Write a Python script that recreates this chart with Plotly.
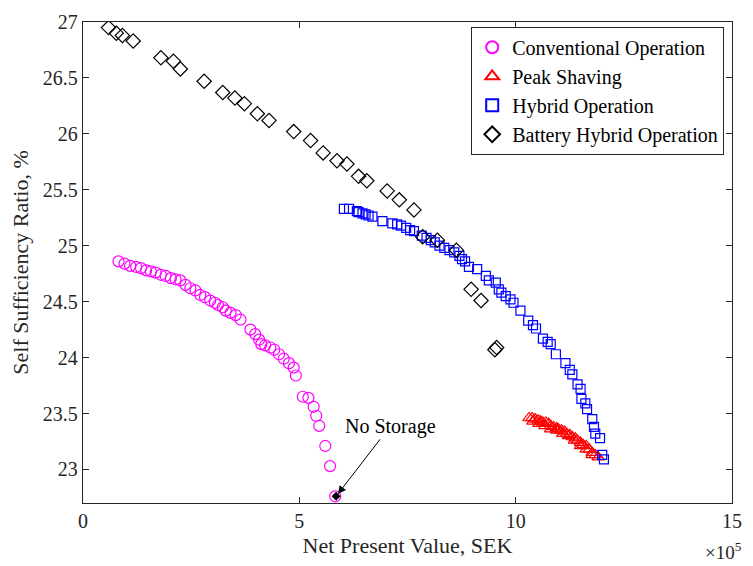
import plotly.graph_objects as go

# Net present value in units of 1e5 SEK, self sufficiency ratio in %
conv_npv = [0.82, 0.96, 1.09, 1.23, 1.34, 1.46, 1.57, 1.68, 1.80, 1.91, 2.03, 2.14, 2.25,
            2.37, 2.48, 2.60, 2.71, 2.82, 2.94, 3.05, 3.12, 3.23, 3.30, 3.41, 3.53, 3.64,
            3.87, 3.98, 4.07, 4.12, 4.21, 4.33, 4.42, 4.53, 4.64, 4.76, 4.87, 4.92, 5.08,
            5.21, 5.33, 5.39, 5.46, 5.60, 5.71, 5.83]
conv_ssr = [24.86, 24.84, 24.82, 24.81, 24.80, 24.78, 24.77, 24.76, 24.74, 24.73, 24.71,
            24.70, 24.69, 24.65, 24.62, 24.60, 24.56, 24.54, 24.51, 24.49, 24.47, 24.45,
            24.42, 24.40, 24.38, 24.34, 24.25, 24.21, 24.16, 24.12, 24.11, 24.09, 24.07,
            24.03, 23.99, 23.95, 23.91, 23.84, 23.65, 23.64, 23.56, 23.48, 23.39, 23.21,
            23.03, 22.76]

peak_npv = [10.31, 10.38, 10.45, 10.52, 10.58, 10.63, 10.70, 10.76, 10.81, 10.88, 10.95,
            10.99, 11.06, 11.13, 11.18, 11.25, 11.31, 11.38, 11.43, 11.50, 11.56, 11.63,
            11.70, 11.77, 11.84,
            10.40, 10.54, 10.68, 10.81, 10.95, 11.09, 11.22, 11.36, 11.50, 11.63, 11.77, 11.91]
peak_ssr = [23.46, 23.46, 23.45, 23.44, 23.43, 23.42, 23.42, 23.41, 23.39, 23.38, 23.37,
            23.36, 23.35, 23.34, 23.32, 23.31, 23.29, 23.28, 23.26, 23.24, 23.22, 23.21,
            23.18, 23.15, 23.13,
            23.43, 23.41, 23.39, 23.36, 23.35, 23.32, 23.30, 23.26, 23.21, 23.18, 23.13, 23.11]

hyb_npv = [6.03, 6.15, 6.33, 6.37, 6.46, 6.53, 6.60, 6.69, 6.92, 7.15, 7.26, 7.35, 7.47,
           7.56, 7.65, 7.83, 7.94, 8.04, 8.13, 8.24, 8.35, 8.47, 8.58, 8.70, 8.76, 8.83,
           8.92, 9.11, 9.31, 9.38, 9.54, 9.61, 9.67, 9.77, 9.88, 9.95, 10.11, 10.29, 10.40,
           10.47, 10.63, 10.74, 10.81, 10.93, 11.15, 11.25, 11.31, 11.43, 11.50, 11.52,
           11.61, 11.65, 11.77, 11.81, 11.84, 11.95, 12.00, 12.04]
hyb_ssr = [25.33, 25.33, 25.31, 25.30, 25.29, 25.28, 25.27, 25.26, 25.22, 25.20, 25.19,
           25.18, 25.16, 25.14, 25.13, 25.09, 25.07, 25.05, 25.03, 25.00, 24.98, 24.96,
           24.94, 24.91, 24.88, 24.86, 24.81, 24.79, 24.73, 24.69, 24.67, 24.61, 24.58,
           24.55, 24.52, 24.49, 24.42, 24.33, 24.29, 24.26, 24.17, 24.14, 24.12, 24.03,
           23.95, 23.89, 23.85, 23.76, 23.72, 23.63, 23.59, 23.54, 23.45, 23.38, 23.32,
           23.28, 23.13, 23.09]

bat_npv = [0.59, 0.77, 0.91, 1.16, 1.80, 2.09, 2.25, 2.80, 3.23, 3.51, 3.73, 4.03, 4.30,
           4.87, 5.26, 5.55, 5.87, 6.10, 6.37, 6.56, 7.03, 7.31, 7.65, 7.85, 8.19, 8.63,
           8.97, 9.20, 9.52, 9.56]
bat_ssr = [26.95, 26.90, 26.88, 26.83, 26.68, 26.65, 26.58, 26.47, 26.37, 26.32, 26.27,
           26.18, 26.12, 26.02, 25.94, 25.83, 25.76, 25.73, 25.62, 25.58, 25.49, 25.41,
           25.32, 25.08, 25.05, 24.96, 24.61, 24.51, 24.07, 24.09]

no_storage_npv = [5.85]
no_storage_ssr = [22.76]

y_ticks = [23, 23.5, 24, 24.5, 25, 25.5, 26, 26.5, 27]
x_ticks = [0, 5, 10, 15]

FONT = "Liberation Serif, Times New Roman, serif"

fig = go.Figure()
fig.add_trace(go.Scatter(x=conv_npv, y=conv_ssr, mode="markers", name="Conventional Operation",
                         marker=dict(symbol="circle-open", size=11, color="#FF00FF",
                                     line=dict(width=1.2))))
fig.add_trace(go.Scatter(x=peak_npv, y=peak_ssr, mode="markers", name="Peak Shaving",
                         marker=dict(symbol="triangle-up-open", size=11, color="#FF0000",
                                     line=dict(width=1.2))))
fig.add_trace(go.Scatter(x=hyb_npv, y=hyb_ssr, mode="markers", name="Hybrid Operation",
                         marker=dict(symbol="square-open", size=9, color="#0000FF",
                                     line=dict(width=1.2))))
fig.add_trace(go.Scatter(x=bat_npv, y=bat_ssr, mode="markers", name="Battery Hybrid Operation",
                         marker=dict(symbol="diamond-open", size=11, color="#000000",
                                     line=dict(width=1.2))))
fig.add_trace(go.Scatter(x=no_storage_npv, y=no_storage_ssr, mode="markers", showlegend=False,
                         marker=dict(symbol="diamond", size=7, color="#000000")))

fig.add_annotation(x=no_storage_npv[0], y=no_storage_ssr[0], text="No Storage",
                   showarrow=True, arrowhead=2, arrowsize=1.6, arrowwidth=1,
                   arrowcolor="#000000", ax=54, ay=-70, standoff=3,
                   font=dict(family=FONT, size=20, color="#000000"))
fig.add_annotation(x=1, y=0, xref="paper", yref="paper", xanchor="right", yanchor="top",
                   yshift=-34, xshift=12, showarrow=False, text="×10<sup>5</sup>",
                   font=dict(family=FONT, size=19, color="#262626"))

axis_common = dict(showline=True, linecolor="#262626", linewidth=1.3, mirror="ticks",
                   ticks="inside", ticklen=6, tickcolor="#262626", showgrid=False,
                   zeroline=False, tickfont=dict(family=FONT, size=20, color="#262626"))

fig.update_xaxes(range=[0, 15], tickvals=x_ticks, ticktext=[str(v) for v in x_ticks],
                 title=dict(text="Net Present Value, SEK", standoff=6,
                            font=dict(family=FONT, size=22, color="#262626")),
                 **axis_common)
fig.update_yaxes(range=[22.7, 27], tickvals=y_ticks, ticktext=[f"{v:g}" for v in y_ticks],
                 title=dict(text="Self Sufficiency Ratio, %", standoff=8,
                            font=dict(family=FONT, size=22, color="#262626")),
                 **axis_common)

fig.update_layout(
    width=753, height=566,
    margin=dict(l=83, r=11, t=15, b=63),
    paper_bgcolor="white", plot_bgcolor="white",
    font=dict(family=FONT, color="#262626"),
    legend=dict(x=0.988, y=0.99, xanchor="right", yanchor="top",
                bgcolor="white", bordercolor="#262626", borderwidth=1,
                font=dict(family=FONT, size=20, color="#000000"),
                tracegroupgap=0, itemsizing="constant"),
)

fig.write_html("out.html")
